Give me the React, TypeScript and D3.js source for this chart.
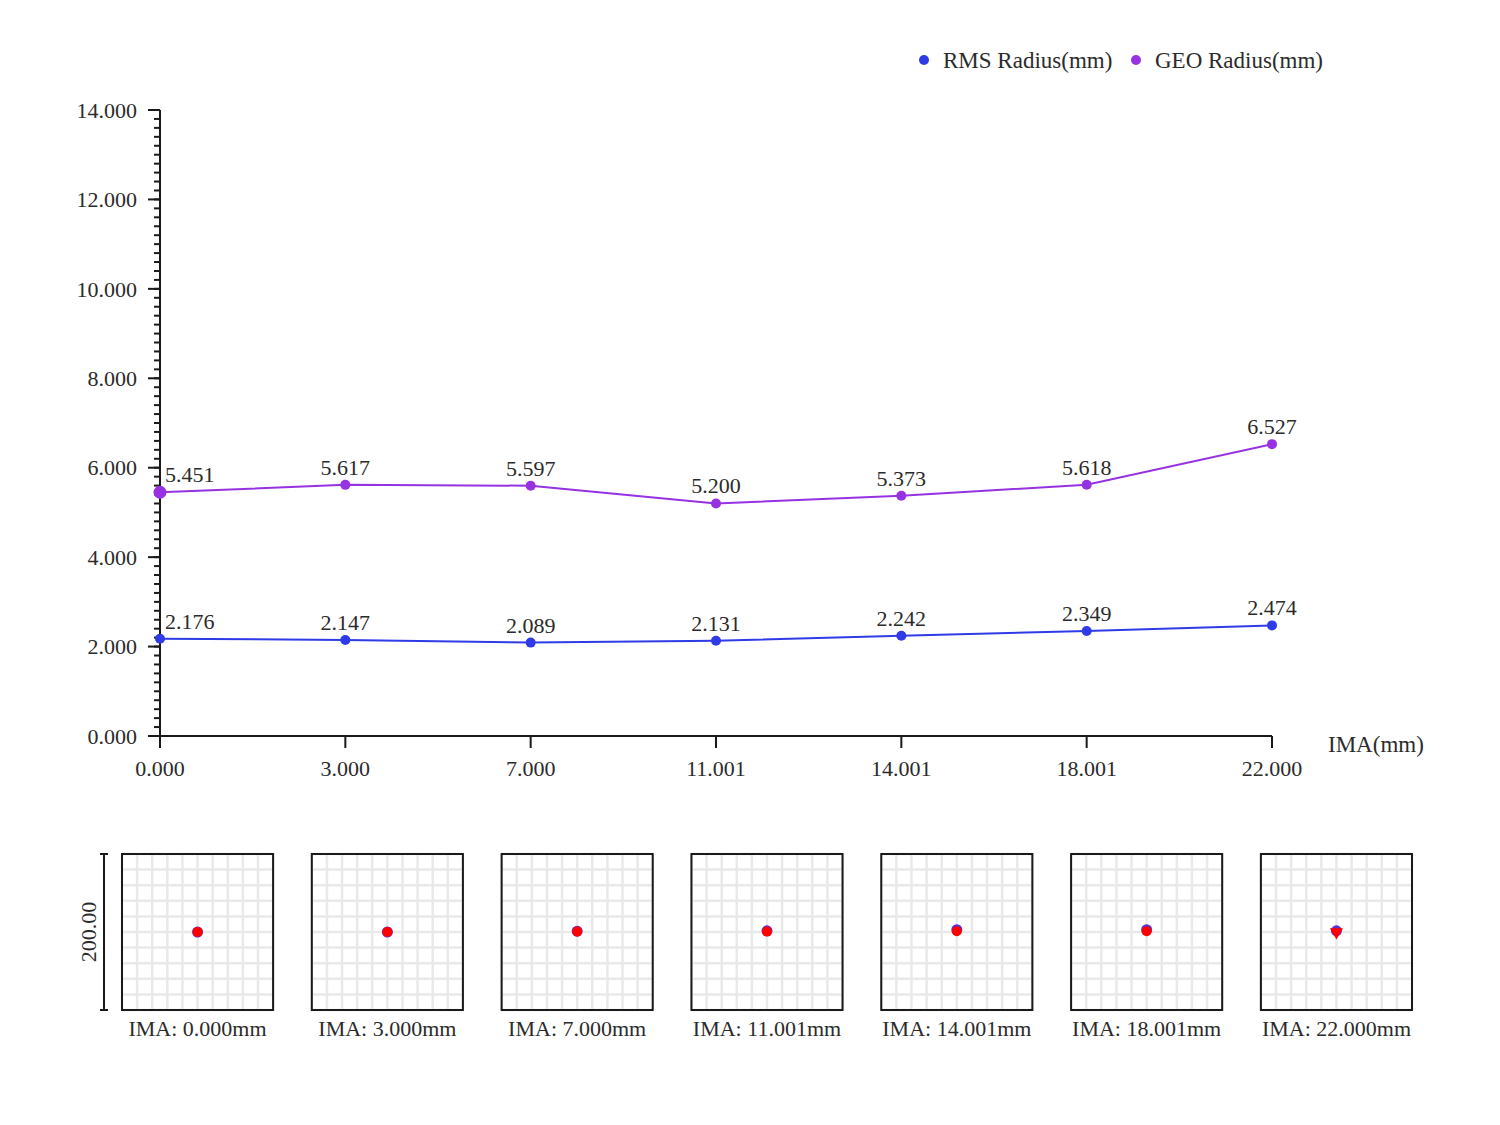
import * as d3 from "d3"

// field positions (mm)
const fields = ["0.000", "3.000", "7.000", "11.001", "14.001", "18.001", "22.000"]
const rmsRadius = [2.176, 2.147, 2.089, 2.131, 2.242, 2.349, 2.474]
const geoRadius = [5.451, 5.617, 5.597, 5.2, 5.373, 5.618, 6.527]

// spot diagram centroids (µm, relative to chief ray) per field
const spotBlueY = [0, 0, 1, 1.5, 3, 3, 1.5]
const spotRedY = [0, 0, 0.5, 0.5, 1, 1, 0]
const spotScaleLabel = "200.00"

const W = 1500
const H = 1125
const FONT = "'Liberation Serif', 'DejaVu Serif', serif"
const TEXT = "#2b2b2b"
const AXIS = "#1a1a1a"
const RMS_COLOR = "#2f3be6"
const GEO_COLOR = "#9632e2"

const series = [
  { name: "RMS Radius(mm)", values: rmsRadius, color: RMS_COLOR },
  { name: "GEO Radius(mm)", values: geoRadius, color: GEO_COLOR },
]

export default function App() {
  const x = d3.scalePoint<string>().domain(fields).range([160, 1272])
  const y = d3.scaleLinear().domain([0, 14]).range([736, 110])
  const majorTicks = y.ticks(7)
  const minorTicks = y.ticks(70)

  const line = d3
    .line<number>()
    .x((_, i) => x(fields[i]) ?? 0)
    .y((d) => y(d))

  // spot panels
  const panel = d3.scaleBand<string>().domain(fields).range([122, 1412]).paddingInner(0.204)
  const boxTop = 854
  const boxH = 156
  const bw = panel.bandwidth()
  const sx = d3.scaleLinear().domain([-100, 100]).range([0, bw])
  const sy = d3.scaleLinear().domain([-100, 100]).range([boxH, 0])
  const gridTicks = d3.ticks(-100, 100, 10)
  const tri = d3.symbol(d3.symbolTriangle, 75)()

  return (
    <svg
      width={W}
      height={H}
      style={{ position: "absolute", left: 0, top: 0, background: "#fff" }}
      fontFamily={FONT}
    >
      {/* legend */}
      {series.map((s, i) => {
        const lx = i === 0 ? 924 : 1136
        return (
          <g key={s.name} transform={`translate(${lx},60)`}>
            <circle r={5} fill={s.color} />
            <text x={19} dy="0.35em" fontSize={23} fill={TEXT}>
              {s.name}
            </text>
          </g>
        )
      })}

      {/* y axis */}
      <line x1={160} x2={160} y1={y(14)} y2={y(0)} stroke={AXIS} strokeWidth={2} />
      {minorTicks.map((t) => (
        <line key={`m${t}`} x1={154} x2={160} y1={y(t)} y2={y(t)} stroke={AXIS} strokeWidth={2} />
      ))}
      {majorTicks.map((t) => (
        <g key={`M${t}`}>
          <line x1={148} x2={160} y1={y(t)} y2={y(t)} stroke={AXIS} strokeWidth={2} />
          <text x={137} y={y(t)} dy="0.35em" textAnchor="end" fontSize={22} fill={TEXT}>
            {t.toFixed(3)}
          </text>
        </g>
      ))}

      {/* x axis */}
      <line x1={160} x2={1272} y1={736} y2={736} stroke={AXIS} strokeWidth={2} />
      {fields.map((f) => (
        <g key={f}>
          <line x1={x(f)} x2={x(f)} y1={736} y2={748} stroke={AXIS} strokeWidth={2} />
          <text x={x(f)} y={776} textAnchor="middle" fontSize={22} fill={TEXT}>
            {f}
          </text>
        </g>
      ))}
      <text x={1328} y={752} fontSize={23} fill={TEXT}>
        IMA(mm)
      </text>

      {/* series */}
      {series.map((s) => (
        <g key={s.name}>
          <path d={line(s.values) ?? ""} fill="none" stroke={s.color} strokeWidth={2} />
          {s.values.map((v, i) => (
            <g key={i}>
              <circle
                cx={x(fields[i])}
                cy={y(v)}
                r={i === 0 && s.color === GEO_COLOR ? 6.5 : 5}
                fill={s.color}
              />
              <text
                x={(x(fields[i]) ?? 0) + (i === 0 ? 5 : 0)}
                y={y(v) - 10}
                textAnchor={i === 0 ? "start" : "middle"}
                fontSize={22}
                fill={TEXT}
              >
                {v.toFixed(3)}
              </text>
            </g>
          ))}
        </g>
      ))}

      {/* scale bar for spot diagrams */}
      <g stroke={AXIS} strokeWidth={2}>
        <line x1={104} x2={104} y1={boxTop} y2={boxTop + boxH} />
        <line x1={100} x2={108} y1={boxTop} y2={boxTop} />
        <line x1={100} x2={108} y1={boxTop + boxH} y2={boxTop + boxH} />
      </g>
      <text
        transform={`translate(96,${boxTop + boxH / 2}) rotate(-90)`}
        textAnchor="middle"
        fontSize={22}
        fill={TEXT}
      >
        {spotScaleLabel}
      </text>

      {/* spot diagrams */}
      {fields.map((f, i) => (
        <g key={`spot${f}`} transform={`translate(${panel(f)},${boxTop})`}>
          {gridTicks.map((t) => (
            <g key={t} stroke="#e9e9e9" strokeWidth={2.5}>
              <line x1={sx(t)} x2={sx(t)} y1={0} y2={boxH} />
              <line x1={0} x2={bw} y1={sy(t)} y2={sy(t)} />
            </g>
          ))}
          <rect x={0} y={0} width={bw} height={boxH} fill="none" stroke={AXIS} strokeWidth={2} />
          <circle cx={sx(0)} cy={sy(spotBlueY[i])} r={5.5} fill="#5a2fd6" />
          {i === fields.length - 1 ? (
            <path d={tri ?? ""} transform={`translate(${sx(0)},${sy(spotRedY[i])}) rotate(180)`} fill="#ff0000" />
          ) : (
            <circle cx={sx(0)} cy={sy(spotRedY[i])} r={5} fill="#ff0000" />
          )}
          <text x={bw / 2} y={boxH + 26} textAnchor="middle" fontSize={22} fill={TEXT}>
            {`IMA: ${f}mm`}
          </text>
        </g>
      ))}
    </svg>
  )
}
